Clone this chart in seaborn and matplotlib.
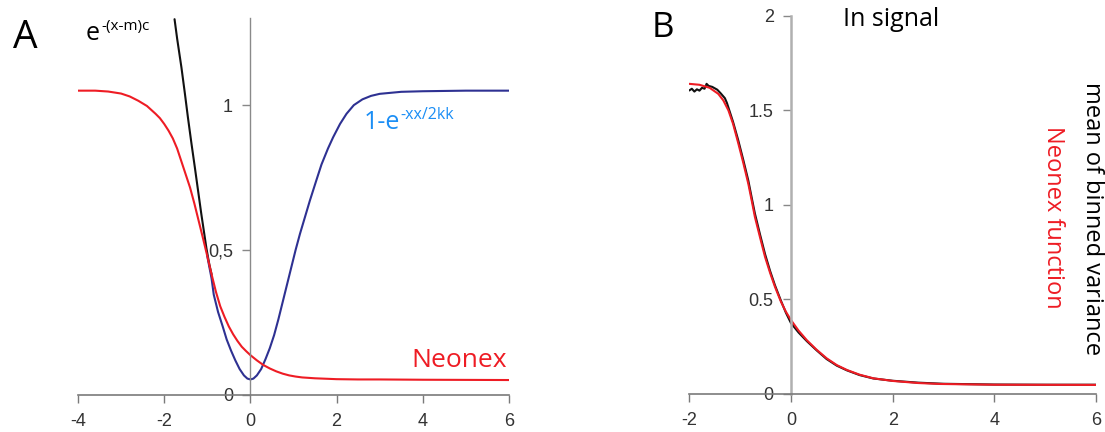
import numpy as np
import pandas as pd
import seaborn as sns
import matplotlib.pyplot as plt

plt.switch_backend("Agg")

# ---- panel A, curves ----
a_neonex_x = [-4.0, -3.6, -3.3, -3.0, -2.8, -2.6, -2.4, -2.2, -2.1, -2.0, -1.9, -1.8, -1.7,
              -1.6, -1.5, -1.4, -1.3, -1.2, -1.1, -1.0, -0.9, -0.8, -0.7, -0.6, -0.5, -0.4,
              -0.3, -0.2, -0.1, 0.0, 0.15, 0.3, 0.45, 0.6, 0.75, 0.9, 1.05, 1.2, 1.5, 2.0,
              2.5, 3.0, 4.0, 6.0]
a_neonex_y = [1.050, 1.050, 1.047, 1.040, 1.030, 1.015, 0.997, 0.970, 0.955, 0.935, 0.912, 0.885, 0.850,
              0.805, 0.760, 0.715, 0.660, 0.600, 0.540, 0.478, 0.415, 0.355, 0.305, 0.268, 0.235, 0.208,
              0.185, 0.165, 0.150, 0.136, 0.118, 0.102, 0.090, 0.080, 0.072, 0.066, 0.062, 0.059, 0.056, 0.053,
              0.052, 0.052, 0.051, 0.050]

a_exp_x = [-1.76, -1.70, -1.60, -1.52, -1.45, -1.37, -1.29, -1.21, -1.14, -1.08, -1.02, -0.95, -0.90]
a_exp_y = [1.297, 1.230, 1.130, 1.040, 0.958, 0.870, 0.786, 0.700, 0.625, 0.565, 0.505, 0.447, 0.415]

a_gauss_x = [-1.0, -0.9, -0.85, -0.75, -0.64, -0.55, -0.45, -0.35, -0.25, -0.15, -0.07, 0.0, 0.07, 0.15,
             0.25, 0.35, 0.45, 0.55, 0.65, 0.75, 0.85, 0.95, 1.05, 1.15, 1.25, 1.38, 1.53, 1.65,
             1.8, 1.92, 2.08, 2.23, 2.4, 2.6, 2.8, 3.0, 3.5, 4.0, 5.0, 6.0]
a_gauss_y = [0.478, 0.400, 0.345, 0.285, 0.234, 0.190, 0.152, 0.118, 0.088, 0.066, 0.055, 0.052, 0.055, 0.066,
             0.088, 0.122, 0.160, 0.205, 0.260, 0.320, 0.380, 0.440, 0.500, 0.555, 0.605, 0.670, 0.740, 0.795,
             0.850, 0.889, 0.935, 0.970, 1.000, 1.020, 1.032, 1.039, 1.046, 1.048, 1.050, 1.050]

a_xticks = [-4, -2, 0, 2, 4, 6]
a_yticks = [0, 0.5, 1]
a_ylabels = ["0", "0,5", "1"]

# ---- panel B ----
b_signal_x = [-2.0, -1.95, -1.9, -1.85, -1.8, -1.75, -1.7, -1.66, -1.62, -1.55, -1.45, -1.38,
              -1.30, -1.26, -1.2, -1.14, -1.04, -0.94, -0.84, -0.77, -0.71, -0.61, -0.51, -0.41,
              -0.315, -0.2, -0.1, 0.0, 0.15, 0.31, 0.5, 0.7, 0.9, 1.1, 1.35, 1.62, 2.0, 2.5,
              3.0, 3.5, 4.0, 5.0, 6.0]
b_signal_y = [1.606, 1.615, 1.600, 1.612, 1.605, 1.620, 1.615, 1.641, 1.630, 1.625, 1.610, 1.590,
              1.565, 1.540, 1.490, 1.440, 1.345, 1.240, 1.130, 1.035, 0.955, 0.845, 0.740, 0.650,
              0.575, 0.495, 0.430, 0.375, 0.325, 0.280, 0.232, 0.185, 0.150, 0.125, 0.100, 0.082,
              0.070, 0.060, 0.054, 0.052, 0.050, 0.049, 0.049]

b_neonex_x = [-2.0, -1.8, -1.6, -1.43, -1.33, -1.23, -1.14, -1.04, -0.94, -0.84, -0.77, -0.71,
              -0.61, -0.51, -0.41, -0.315, -0.2, -0.1, 0.0, 0.15, 0.31, 0.5, 0.7, 0.9, 1.1,
              1.35, 1.62, 2.0, 2.5, 2.93, 4.0, 6.0]
b_neonex_y = [1.641, 1.636, 1.620, 1.588, 1.553, 1.500, 1.430, 1.330, 1.225, 1.113, 1.020, 0.937,
              0.830, 0.725, 0.640, 0.567, 0.490, 0.435, 0.391, 0.335, 0.285, 0.235, 0.189, 0.153,
              0.127, 0.102, 0.083, 0.069, 0.058, 0.053, 0.049, 0.048]

b_xticks = [-2, 0, 2, 4, 6]
b_yticks = [0, 0.5, 1, 1.5, 2]
b_ylabels = ["0", "0.5", "1", "1.5", "2"]

RED = "#ee1c24"
NAVY = "#2e3192"
LABEL_BLUE = "#1b8ef5"
TICK_FONT = "Liberation Sans"

sns.set_style("white")
plt.rcParams["font.family"] = ["Open Sans", "DejaVu Sans"]

fig = plt.figure(figsize=(11.05, 4.32), dpi=100)
ax_a = fig.add_axes([0.0706, 0.0868, 0.3900, 0.8708])
ax_b = fig.add_axes([0.6238, 0.0880, 0.3681, 0.8750])


def curve(ax, xs, ys, color):
    df = pd.DataFrame({"x": xs, "y": ys})
    sns.lineplot(data=df, x="x", y="y", ax=ax, color=color, linewidth=1.5,
                 estimator=None, sort=False, legend=False)


def frame(ax, xlim, ylim, xticks, yticks, ylabels, ycolor, ywidth, xpad):
    ax.set_xlim(*xlim)
    ax.set_ylim(*ylim)
    ax.spines["top"].set_visible(False)
    ax.spines["right"].set_visible(False)
    ax.spines["left"].set_position(("data", 0))
    ax.spines["left"].set_color(ycolor)
    ax.spines["left"].set_linewidth(ywidth)
    ax.spines["bottom"].set_color("#7a7a7a")
    ax.spines["bottom"].set_linewidth(1.2)
    ax.set_xticks(xticks, [str(t) for t in xticks], fontfamily=TICK_FONT)
    ax.set_yticks(yticks, ylabels, fontfamily=TICK_FONT)
    ax.tick_params(axis="x", bottom=True, direction="out", length=6, width=1,
                   color="#7a7a7a", labelsize=13, labelcolor="#333333", pad=xpad)
    ax.tick_params(axis="y", left=True, direction="out", length=5.5, width=1,
                   color="#888888", labelsize=13, labelcolor="#333333", pad=7)
    ax.set_xlabel("")
    ax.set_ylabel("")


# panel A
curve(ax_a, a_exp_x, a_exp_y, "#111111")
curve(ax_a, a_gauss_x, a_gauss_y, NAVY)
curve(ax_a, a_neonex_x, a_neonex_y, RED)
frame(ax_a, (-4, 6), (0, 1.3), a_xticks, a_yticks, a_ylabels, "#8a8a8a", 1.0, 7.5)

# panel B
curve(ax_b, b_signal_x, b_signal_y, "#111111")
curve(ax_b, b_neonex_x, b_neonex_y, RED)
frame(ax_b, (-2, 6), (0, 2), b_xticks, b_yticks, b_ylabels, "#b0b0b0", 1.8, 7)

W, H = 1105.0, 432.0


def ftext(px, py, s, **kw):
    fig.text(px / W, 1 - py / H, s, **kw)


ftext(13, 48, "A", fontsize=28, va="baseline", color="black")
ftext(86, 40, "e", fontsize=18, va="baseline", color="black")
ftext(101.5, 30, "-(x-m)c", fontsize=11, va="baseline", color="black")
ftext(364, 129, "1-e", fontsize=18, va="baseline", color=LABEL_BLUE)
ftext(400, 119, "-xx/2kk", fontsize=11.5, va="baseline", color=LABEL_BLUE)
ftext(411, 367, "Neonex", fontsize=19, va="baseline", color=RED)

ftext(652, 37, "B", fontsize=25, va="baseline", color="black")
ftext(843, 26, "In signal", fontsize=18, va="baseline", color="black")
ftext(1092.5, 218.5, "mean of binned variance", fontsize=17, rotation=-90,
      ha="center", va="center", color="black")
ftext(1053, 217.5, "Neonex function", fontsize=17, rotation=-90,
      ha="center", va="center", color=RED)

fig.savefig("out.png", dpi=100)
